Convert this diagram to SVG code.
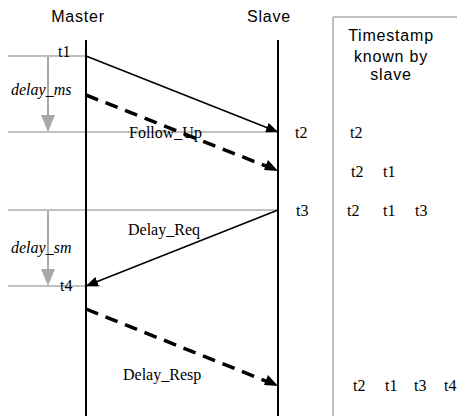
<svg xmlns="http://www.w3.org/2000/svg" width="457" height="416" viewBox="0 0 457 416">
<defs>
<style>
.grey{stroke:#c0c0c0;stroke-width:2;fill:none}
.life{stroke:#000;stroke-width:2}
.msg{stroke:#000;stroke-width:1.6;fill:none}
.dash{stroke:#000;stroke-width:3.5;fill:none;stroke-dasharray:13 8}
.sans{font-family:"Liberation Sans",Arial,sans-serif;font-size:16px;letter-spacing:0.8px;fill:#000}
.serif{font-family:"Liberation Serif","Times New Roman",serif;font-size:16px;fill:#000}
.it{font-style:italic}
.gline{stroke:#a8a8a8;stroke-width:2}
.ghead{fill:#a8a8a8}
</style>
<marker id="ah" markerWidth="12" markerHeight="10" refX="12" refY="5" orient="auto" markerUnits="userSpaceOnUse">
<path d="M0,0 L12,5 L0,10 Z" fill="#000"/>
</marker>
</defs>
<g id="grid">
<line class="grey" x1="8" y1="56" x2="86" y2="56"/>
<line class="grey" x1="8" y1="132" x2="278" y2="132"/>
<line class="grey" x1="8" y1="210" x2="278" y2="210"/>
<line class="grey" x1="8" y1="286" x2="100" y2="286"/>
<line class="grey" x1="333" y1="17" x2="333" y2="416"/>
<line class="grey" x1="333" y1="17" x2="457" y2="17"/>
</g>
<g id="master">
<text class="sans" x="78" y="22" text-anchor="middle">Master</text>
<line class="life" x1="86" y1="40" x2="86" y2="416"/>
</g>
<g id="slave">
<text class="sans" x="269" y="22" text-anchor="middle">Slave</text>
<line class="life" x1="278" y1="40" x2="278" y2="416"/>
</g>
<g id="timestamp-box">
<text class="sans" x="391" y="41" text-anchor="middle">Timestamp</text>
<text class="sans" x="391" y="62" text-anchor="middle">known by</text>
<text class="sans" x="391" y="80" text-anchor="middle">slave</text>
<text class="serif" x="350" y="138">t2</text>
<text class="serif" x="351" y="177">t2</text>
<text class="serif" x="383" y="177">t1</text>
<text class="serif" x="347" y="216">t2</text>
<text class="serif" x="383" y="216">t1</text>
<text class="serif" x="415" y="216">t3</text>
<text class="serif" x="353" y="391">t2</text>
<text class="serif" x="385" y="391">t1</text>
<text class="serif" x="414" y="391">t3</text>
<text class="serif" x="444" y="391">t4</text>
</g>
<g id="delays">
<line class="gline" x1="48" y1="57" x2="48" y2="116"/>
<path class="ghead" d="M41,115 L55,115 L48,132 Z"/>
<line class="gline" x1="48" y1="211" x2="48" y2="270"/>
<path class="ghead" d="M41,269 L55,269 L48,286 Z"/>
<text class="serif it" x="11" y="95">delay_ms</text>
<text class="serif it" x="11" y="253">delay_sm</text>
</g>
<g id="labels">
<text class="serif" x="58" y="57">t1</text>
<text class="serif" x="295" y="138">t2</text>
<text class="serif" x="296" y="216">t3</text>
<text class="serif" x="60" y="291">t4</text>
<text class="serif" x="129" y="138">Follow_Up</text>
<text class="serif" x="128" y="235">Delay_Req</text>
<text class="serif" x="123" y="380">Delay_Resp</text>
</g>
<g id="connectors">
<line class="msg" x1="86" y1="56" x2="278" y2="132" marker-end="url(#ah)"/>
<line class="dash" x1="86" y1="95" x2="272" y2="168.5"/>
<path d="M278,171 L264,170 L268,160 Z" fill="#000"/>
<line class="msg" x1="278" y1="210" x2="86" y2="286" marker-end="url(#ah)"/>
<line class="dash" x1="86" y1="309" x2="272" y2="383.5"/>
<path d="M278,386 L264,385 L268,375 Z" fill="#000"/>
</g>
</svg>
